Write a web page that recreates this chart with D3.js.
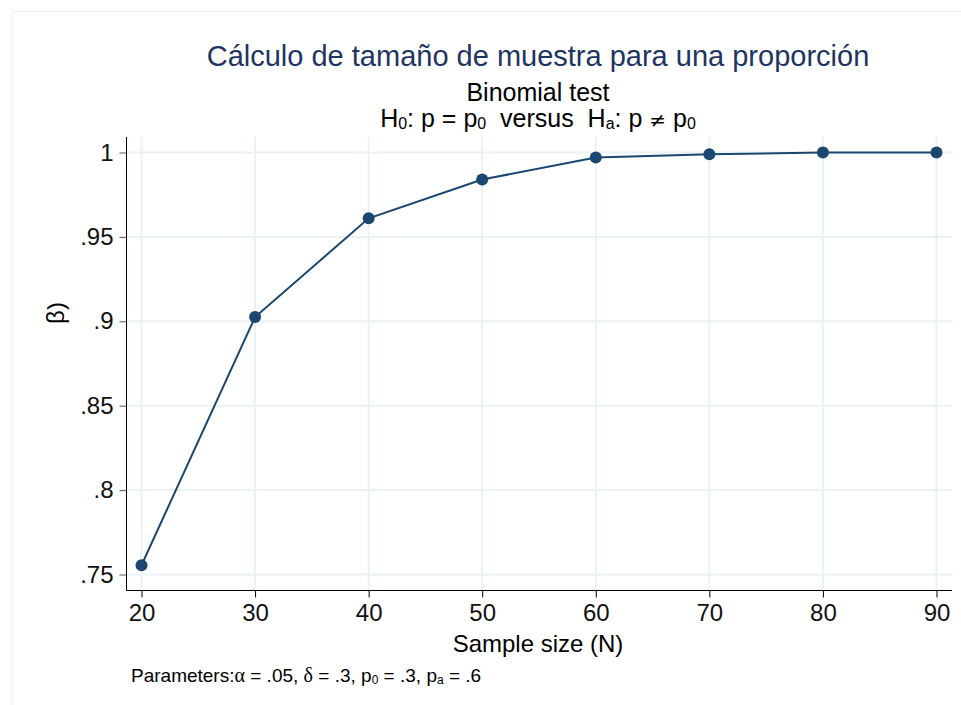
<!DOCTYPE html>
<html>
<head>
<meta charset="utf-8">
<script src="https://cdn.jsdelivr.net/npm/d3@7"></script>
<style>
  body { margin: 0; background: #fff; }
  text { font-family: "Liberation Sans", Arial, sans-serif; }
</style>
</head>
<body>
<div id="chart"></div>
<script>
// data
const sampleSizes = [20, 30, 40, 50, 60, 70, 80, 90];
const power = [0.7555, 0.9025, 0.961, 0.984, 0.997, 0.999, 1.0, 1.0];
const yTicks = [0.75, 0.8, 0.85, 0.9, 0.95, 1];
const yTickLabels = [".75", ".8", ".85", ".9", ".95", "1"];

const width = 961, height = 705;
const navy = "#1a476f";
const grid = "#eaf2f3";

const svg = d3.select("#chart").append("svg")
    .attr("width", width)
    .attr("height", height);

// faint outer frame
svg.append("rect")
    .attr("x", 12.5).attr("y", 11.5)
    .attr("width", width).attr("height", height)
    .attr("fill", "none")
    .attr("stroke", "#f2f2f2");

const x = d3.scaleLinear().domain([20, 90]).range([141.5, 936.5]);
const y = d3.scaleLinear().domain([0.75, 1]).range([574.5, 152.5]);

const axisLeft = 126.5, axisBottom = 590.5, plotTop = 137, plotRight = 952;

// grid
svg.append("g")
  .selectAll("line")
  .data(yTicks)
  .join("line")
    .attr("x1", axisLeft).attr("x2", plotRight)
    .attr("y1", d => y(d)).attr("y2", d => y(d))
    .attr("stroke", grid).attr("stroke-width", 2);

svg.append("g")
  .selectAll("line")
  .data(sampleSizes)
  .join("line")
    .attr("x1", d => x(d)).attr("x2", d => x(d))
    .attr("y1", plotTop).attr("y2", axisBottom)
    .attr("stroke", grid).attr("stroke-width", 2);

// axes
const yAxis = svg.append("g")
    .attr("transform", `translate(${axisLeft},0)`)
    .call(d3.axisLeft(y).tickValues(yTicks)
      .tickFormat((d, i) => yTickLabels[i]).tickSize(7).tickPadding(6));
yAxis.select(".domain").attr("d", `M0,${plotTop}V${axisBottom}`).attr("stroke", "#000");
yAxis.selectAll(".tick line").attr("stroke", "#555");
yAxis.selectAll(".tick text")
    .attr("font-size", 24)
    .attr("fill", "#111")
    .attr("font-family", "Liberation Sans, Arial, sans-serif");

const xAxis = svg.append("g")
    .attr("transform", `translate(0,${axisBottom})`)
    .call(d3.axisBottom(x).tickValues(sampleSizes).tickSize(7).tickPadding(6));
xAxis.select(".domain").attr("d", `M${axisLeft},0H${plotRight}`).attr("stroke", "#000");
xAxis.selectAll(".tick line").attr("stroke", "#000");
xAxis.selectAll(".tick text")
    .attr("font-size", 24)
    .attr("fill", "#111")
    .attr("font-family", "Liberation Sans, Arial, sans-serif");

// line + markers
const pts = sampleSizes.map((n, i) => [n, power[i]]);
svg.append("path")
    .datum(pts)
    .attr("fill", "none")
    .attr("stroke", navy)
    .attr("stroke-width", 2)
    .attr("d", d3.line().x(d => x(d[0])).y(d => y(d[1])));

svg.append("g")
  .selectAll("circle")
  .data(pts)
  .join("circle")
    .attr("cx", d => x(d[0]))
    .attr("cy", d => y(d[1]))
    .attr("r", 6)
    .attr("fill", navy);

// titles
const cx = 538;
svg.append("text")
    .attr("x", cx).attr("y", 66)
    .attr("text-anchor", "middle")
    .attr("font-size", 29)
    .attr("fill", "#1f3461")
    .text("Cálculo de tamaño de muestra para una proporción");

svg.append("text")
    .attr("x", cx).attr("y", 101)
    .attr("text-anchor", "middle")
    .attr("font-size", 25)
    .attr("fill", "#000")
    .text("Binomial test");

const sub = svg.append("text")
    .attr("x", cx).attr("y", 127)
    .attr("text-anchor", "middle")
    .attr("font-size", 25)
    .attr("fill", "#000")
    .attr("xml:space", "preserve");
sub.append("tspan").text("H");
sub.append("tspan").attr("font-size", 16).attr("dy", 2).text("0");
sub.append("tspan").attr("dy", -2).text(": p = p");
sub.append("tspan").attr("font-size", 16).attr("dy", 2).text("0");
sub.append("tspan").attr("dy", -2).text("  versus  H");
sub.append("tspan").attr("font-size", 16).attr("dy", 2).text("a");
sub.append("tspan").attr("dy", -2).text(": p ");
sub.append("tspan").attr("font-family", "DejaVu Serif, serif").attr("font-size", 20).text("≠");
sub.append("tspan").text(" p");
sub.append("tspan").attr("font-size", 16).attr("dy", 2).text("0");

// axis titles
svg.append("text")
    .attr("x", cx).attr("y", 652)
    .attr("text-anchor", "middle")
    .attr("font-size", 24)
    .attr("fill", "#000")
    .text("Sample size (N)");

svg.append("text")
    .attr("transform", "translate(64,313) rotate(-90)")
    .attr("text-anchor", "middle")
    .attr("font-size", 24)
    .attr("font-family", "Liberation Serif, serif")
    .attr("fill", "#000")
    .text("β)");

// note
const note = svg.append("text")
    .attr("x", 131).attr("y", 682)
    .attr("font-size", 19)
    .attr("fill", "#000")
    .attr("xml:space", "preserve");
note.append("tspan").text("Parameters:");
note.append("tspan").attr("font-family", "Liberation Serif, serif").attr("font-size", 20).text("α");
note.append("tspan").text(" = .05, ");
note.append("tspan").attr("font-family", "Liberation Serif, serif").attr("font-size", 20).text("δ");
note.append("tspan").text(" = .3, p");
note.append("tspan").attr("font-size", 12).attr("dy", 2).text("0");
note.append("tspan").attr("dy", -2).text(" = .3, p");
note.append("tspan").attr("font-size", 12).attr("dy", 2).text("a");
note.append("tspan").attr("dy", -2).text(" = .6");
</script>
</body>
</html>
